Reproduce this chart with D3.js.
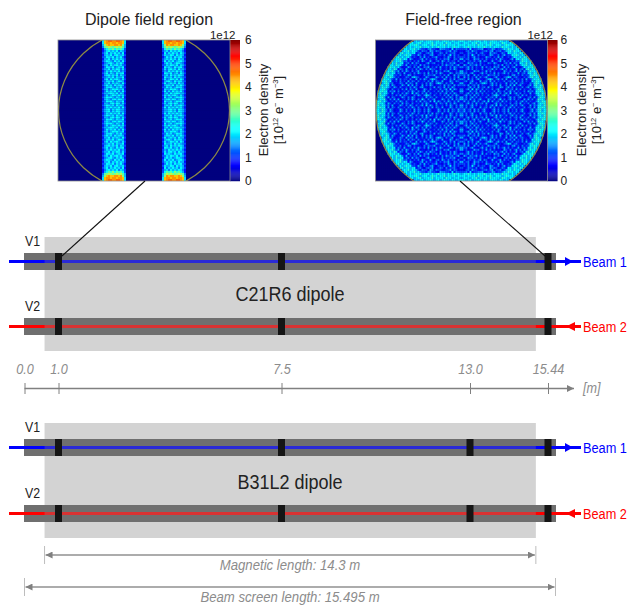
<!DOCTYPE html>
<html>
<head>
<meta charset="utf-8">
<script src="https://cdn.jsdelivr.net/npm/d3@7"></script>
<style>
  html, body { margin: 0; padding: 0; background: #fff; }
  svg { display: block; }
  text { font-family: "Liberation Sans", Arial, sans-serif; }
</style>
</head>
<body>
<svg id="chart" width="630" height="606"></svg>
<script>
// Electron density maps, top-left quarter of each map, the other three are mirrored.
// One base-36 character per cell, in steps of 0.28e12. Rows are right aligned, missing cells are empty.
const dipoleRows = [
  "7fghhgghhgf7000000000", "7fggfggfggf7000000000", "6bfgffggfgb6000000000", "5abcbabcbca6000000000",
  "368a9b8a9a84000000000", "357867685764000000000", "468576867583000000000", "367685786674000000000",
  "458768576853000000000", "366857686764000000000", "468765867584000000000", "356786576863000000000",
  "467586786754000000000", "358768567683000000000", "466857687574000000000", "357686768564000000000",
  "468576586783000000000", "367867685764000000000", "456768576683000000000", "368586786574000000000",
  "457768568763000000000", "366857676584000000000", "468675867763000000000", "357786576854000000000",
  "467568786673000000000", "358676857584000000000", "466787685763000000000", "357568768674000000000",
  "468786576583000000000", "367657868764000000000", "458786576683000000000", "366578687574000000000",
  "468767586763000000000", "357686768584000000000", "467857687664000000000"
];
const fieldFreeRows = [
  "676786778767867877687678",
  "78678967787968778697867786",
  "687897678867978687968778687",
  "7686787967786867977868679786",
  "78687967544356443265544373544",
  "687968764354426535443344635423",
  "7967867834532454623354253445324",
  "68679784436425335632443524735342",
  "796867853432536342446332436425344",
  "6879687364233462534335243546325436",
  "76879645342435264336324526435344253",
  "86967834526354232463452335243546324",
  "786978536243442635342333425364453462",
  "6978684233642536325462435263342536435",
  "7869735426334253642536443253342536423",
  "68796462536425346233242536342546332436",
  "79687354263342536435263425364233642546",
  "689784435243652433325354463342536226354",
  "786975342335426754233642336435263425362",
  "6978643625344253262536425764233642536245",
  "7896833425342635425334253625436233642543",
  "6897452335426354263342536425764253462336",
  "78697364233642736253262536423342635426354",
  "69786436425334253642563324362543625364233",
  "78964253342536254362236425334253462736425",
  "689783546253342536425346253342536254362336",
  "796874263342536427364253625334253462536424",
  "697853342536254332536425764253342536253642",
  "789636254233642536423342635425334253642536",
  "687942536362342536425374253462336425362546",
  "7896853342536425334253625436273642536425363",
  "6978636425342635425334253642336254362536424",
  "7968745362336425364253462736425334253642536",
  "6897836254253342536425334253625436233642535",
  "7869753642336425342635425364233642536254364"
];
const cellStep = 0.28;

const mapTitles = ["Dipole field region", "Field-free region"];
const colorbarTicks = [0, 1, 2, 3, 4, 5, 6];
const jetStops = [0, 0.66, 0.75, 2.1, 2.25, 3.84, 5.34, 6];
const jetColors = ["#00007f", "#0000ff", "#0000ff", "#00ffff", "#00ffff", "#ffff00", "#ff0000", "#7f0000"];

// Positions along the dipole [m]
const axisStops = [0, 1, 7.5, 13, 15.44, 15.67];
const axisTicks = [0, 1, 7.5, 13, 15.44];
const axisTickLabels = ["0.0", "1.0", "7.5", "13.0", "15.44"];
const blocksC21R6 = [1, 7.5, 15.44];
const blocksB31L2 = [1, 7.5, 13, 15.44];
const magnetStart = 0.59;
const magnetEnd = 15.06;
const magnetLabel = "Magnetic length: 14.3 m";
const screenLabel = "Beam screen length: 15.495 m";

const svg = d3.select("#chart");
const x = d3.scaleLinear().domain(axisStops).range([24.5, 58.5, 281.5, 470, 548, 555.5]);
const jet = d3.scaleLinear().domain(jetStops).range(jetColors).clamp(true);
const gray = "#808080";

const defs = svg.append("defs");
defs.append("filter").attr("id", "soft")
  .attr("x", "-5%").attr("y", "-5%").attr("width", "110%").attr("height", "110%")
  .append("feGaussianBlur").attr("stdDeviation", 0.6);
defs.append("marker").attr("id", "head")
  .attr("viewBox", "0 0 8 8").attr("refX", 8).attr("refY", 4)
  .attr("markerWidth", 7).attr("markerHeight", 7).attr("markerUnits", "userSpaceOnUse")
  .attr("orient", "auto-start-reverse")
  .append("path").attr("d", "M0,0L8,4L0,8Z").attr("fill", gray);

// The reference text is a bit narrower than the font, squeeze it to fit
function squeeze(sel, f) {
  sel.each(function () {
    this.setAttribute("textLength", this.getComputedTextLength() * f);
    this.setAttribute("lengthAdjust", "spacingAndGlyphs");
  });
}

// Draw one density map with colour bar
function drawMap(rows, i, left, title, titleX, chamberRy, tickPad) {
  const cols = d3.range(86), lines = d3.range(70);
  const cx = d3.scaleLinear().domain([0, 86]).range([left, left + 172]);
  const cy = d3.scaleLinear().domain([0, 70]).range([40, 181]);
  const c = d3.scaleLinear().domain([0, 6]).range([181, 40]);
  const g = svg.append("g");
  const clipId = "plot" + i;

  defs.append("clipPath").attr("id", clipId).append("rect")
    .attr("x", cx(0)).attr("y", cy(0)).attr("width", 172).attr("height", 141);

  const cells = [];
  lines.forEach(r => {
    const row = rows[r < 35 ? r : 69 - r].padStart(43, "0");
    cols.forEach(k => {
      cells.push({ r, k, v: parseInt(row[k < 43 ? k : 85 - k], 36) * cellStep });
    });
  });

  const plot = g.append("g").attr("clip-path", `url(#${clipId})`);
  plot.append("rect").attr("x", cx(0)).attr("y", cy(0)).attr("width", 172).attr("height", 141).attr("fill", jet(0));
  plot.append("g").attr("filter", "url(#soft)")
    .selectAll("rect").data(cells).enter().append("rect")
    .attr("x", d => cx(d.k)).attr("y", d => cy(d.r))
    .attr("width", 2.2).attr("height", 2.2)
    .attr("fill", d => jet(d.v));
  plot.append("ellipse")
    .attr("cx", cx(43)).attr("cy", cy(35))
    .attr("rx", cx(86) - cx(43) - 0.5).attr("ry", chamberRy)
    .attr("fill", "none").attr("stroke", "#8e8a45").attr("stroke-width", 1.2);

  // colour bar
  g.append("g").selectAll("rect").data(d3.range(0, 6, 0.04)).enter().append("rect")
    .attr("x", cx(86)).attr("y", d => c(d + 0.04))
    .attr("width", 10).attr("height", c(0) - c(0.05))
    .attr("fill", d => jet(d));

  g.append("rect").attr("x", cx(0)).attr("y", cy(0)).attr("width", 172).attr("height", 141)
    .attr("fill", "none").attr("stroke", "#8c8c8c").attr("stroke-width", 0.8);

  const barRight = cx(86) + 10;
  const axis = g.append("g").attr("transform", `translate(${barRight},0)`)
    .call(d3.axisRight(c).tickValues(colorbarTicks).tickSize(0).tickPadding(tickPad).tickFormat(d3.format("d")));
  axis.select(".domain").remove();
  axis.selectAll("text").attr("font-size", 12).attr("fill", "#222")
    .style("font-family", '"Liberation Sans", Arial, sans-serif');

  g.append("text").attr("x", barRight - 4.5).attr("y", 38.5).attr("text-anchor", "end")
    .attr("font-size", 11.5).attr("fill", "#222").text("1e12");
  g.append("text").attr("x", titleX).attr("y", 25).attr("text-anchor", "middle")
    .attr("font-size", 16).attr("fill", "#222").text(title);

  const label = g.append("text").attr("text-anchor", "middle").attr("font-size", 13).attr("fill", "#222")
    .attr("transform", `translate(${barRight + 28},110) rotate(-90)`);
  label.append("tspan").attr("x", 0).attr("y", 0).text("Electron density");
  const unit = label.append("tspan").attr("x", 0).attr("y", 15).text("[10");
  // unit pieces: text, raised
  let raised = false;
  [["12", true], [" e", false], ["−", true], [" m", false], ["−3", true], ["]", false]].forEach(p => {
    unit.append("tspan")
      .attr("font-size", p[1] ? 7.5 : 13)
      .attr("dy", p[1] ? -5 : (raised ? 5 : 0))
      .text(p[0]);
    raised = p[1];
  });
}

drawMap(dipoleRows, 0, 58, mapTitles[0], 149, 81, 5);
drawMap(fieldFreeRows, 1, 375.5, mapTitles[1], 463.5, 85, 3);

// Draw one dipole: magnet, two vacuum chambers, beams and blocks
function drawDipole(name, blocks, top, bottom, bandV1, bandV2, nameY) {
  const g = svg.append("g");
  g.append("rect").attr("x", x(magnetStart)).attr("y", top)
    .attr("width", x(magnetEnd) - x(magnetStart)).attr("height", bottom - top).attr("fill", "#d3d3d3");

  [["V1", bandV1, "#0000ff", "#2a2ad6"], ["V2", bandV2, "#ff0000", "#d83232"]].forEach((b, n) => {
    const y0 = b[1], mid = y0 + 8.5;
    g.append("rect").attr("x", x(0) - 0.5).attr("y", y0).attr("width", x.range()[5] - x(0) + 1).attr("height", 17).attr("fill", "#6f6f6f");
    g.append("text").attr("x", 25).attr("y", y0 - 7).attr("font-size", 14.5).attr("fill", "#222").text(b[0])
      .call(squeeze, 0.85);
    g.append("line").attr("x1", 9).attr("x2", 581).attr("y1", mid).attr("y2", mid).attr("stroke", b[2]).attr("stroke-width", 3);
    g.append("line").attr("x1", x(magnetStart)).attr("x2", x(magnetEnd)).attr("y1", mid).attr("y2", mid).attr("stroke", b[3]).attr("stroke-width", 3);
    g.selectAll(null).data(blocks).enter().append("rect")
      .attr("x", d => x(d) - 3.5).attr("y", y0).attr("width", 7).attr("height", 17).attr("fill", "#151515");
    // beam direction
    const head = n === 0 ? `M565,${mid - 4.5}L573,${mid}L565,${mid + 4.5}Z` : `M575,${mid - 4.5}L566,${mid}L575,${mid + 4.5}Z`;
    g.append("path").attr("d", head).attr("fill", b[2]);
    g.append("text").attr("x", 583).attr("y", mid + 5).attr("font-size", 14)
      .attr("fill", b[2]).text("Beam " + (n + 1))
      .call(squeeze, 0.91);
  });

  g.append("text").attr("x", 290).attr("y", nameY).attr("text-anchor", "middle")
    .attr("font-size", 20).attr("fill", "#222").text(name)
    .call(squeeze, 0.9);
}

drawDipole("C21R6 dipole", blocksC21R6, 237, 351, 253, 318, 301);
drawDipole("B31L2 dipole", blocksB31L2, 423, 538, 439, 505, 489);

// Lines from the maps down to the chamber
[[145, 62], [460, 545]].forEach(p => {
  svg.append("line").attr("x1", p[0]).attr("y1", 181).attr("x2", p[1]).attr("y2", 256)
    .attr("stroke", "#111").attr("stroke-width", 1.1);
});

// Position axis
const axisG = svg.append("g").attr("transform", "translate(0,388.5)")
  .call(d3.axisTop(x).tickValues(axisTicks).tickSize(5.5).tickPadding(9)
    .tickFormat((d, i) => axisTickLabels[i]));
axisG.select(".domain").remove();
axisG.selectAll("line").attr("stroke", gray).attr("y2", -5.5).attr("y1", 5.5);
axisG.selectAll("text").attr("fill", "#8c8c8c").attr("font-size", 14).attr("font-style", "italic")
  .style("font-family", '"Liberation Sans", Arial, sans-serif')
  .call(squeeze, 0.9);
svg.append("line").attr("x1", x(0)).attr("x2", 574).attr("y1", 388.5).attr("y2", 388.5)
  .attr("stroke", gray).attr("stroke-width", 1.5).attr("marker-end", "url(#head)");
svg.append("text").attr("x", 583).attr("y", 393).attr("font-size", 14).attr("font-style", "italic")
  .attr("fill", "#8c8c8c").text("[m]")
  .call(squeeze, 0.9);

// Length dimensions
function drawLength(from, to, y, label, labelY) {
  const g = svg.append("g");
  [from, to].forEach(v => {
    g.append("line").attr("x1", x(v)).attr("x2", x(v)).attr("y1", y - 9).attr("y2", y + 9)
      .attr("stroke", "#bdbdbd").attr("stroke-width", 1);
  });
  g.append("line").attr("x1", x(from) + 1).attr("x2", x(to) - 1).attr("y1", y).attr("y2", y)
    .attr("stroke", "#909090").attr("stroke-width", 1.5)
    .attr("marker-start", "url(#head)").attr("marker-end", "url(#head)");
  g.append("text").attr("x", 290).attr("y", labelY).attr("text-anchor", "middle")
    .attr("font-size", 14).attr("font-style", "italic").attr("fill", "#8c8c8c").text(label)
    .call(squeeze, 0.94);
}

drawLength(magnetStart, magnetEnd, 555, magnetLabel, 570);
drawLength(0, axisStops[5], 587, screenLabel, 602);
</script>
</body>
</html>
